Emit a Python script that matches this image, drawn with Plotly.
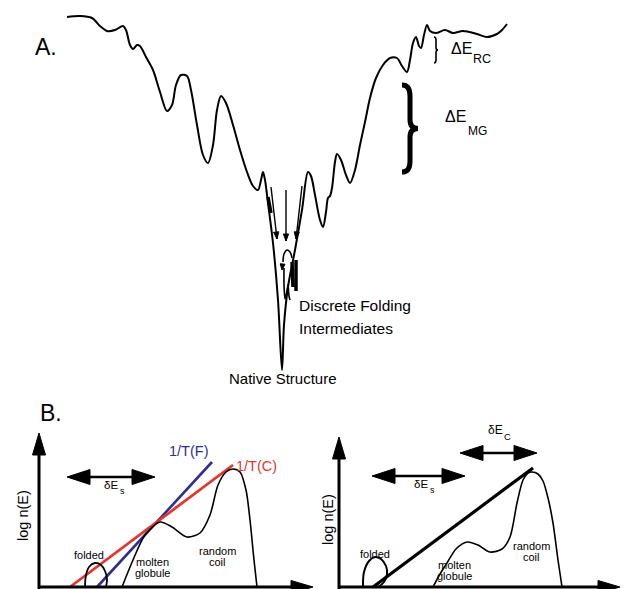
import plotly.graph_objects as go

# ---------------- data ----------------
# Panel A: energy landscape, conformation coordinate vs energy (screen units, energy grows downward)
LAND_Q = [67, 80, 92, 100, 107, 115, 123, 126, 130, 133, 137, 140, 146, 153, 160, 167, 172, 176, 181, 187,
          191, 197, 203, 208, 213, 217, 221, 226, 233, 240, 247, 253, 258, 261, 263, 265, 268, 273, 278, 282,
          284, 288, 295, 302, 308, 311, 315, 320, 323, 326, 328, 330, 332, 335, 337, 341, 346, 350, 355, 360,
          365, 370, 376, 383, 390, 397, 402, 407, 410, 413, 416, 419, 421, 424, 427, 430, 436, 445, 453, 463,
          477, 487, 497, 502, 507]
LAND_E = [17, 16, 18, 26, 31, 30, 26, 30, 45, 49, 45, 46, 57, 70, 92, 111, 105, 85, 75, 76,
          90, 125, 155, 163, 145, 110, 96, 103, 125, 150, 172, 186, 190, 180, 172, 180, 203, 243, 300, 370,
          325, 287, 250, 210, 172, 176, 195, 220, 227, 212, 198, 196, 188, 162, 154, 160, 175, 183, 170, 145,
          122, 98, 78, 65, 58, 58, 66, 72, 60, 43, 37, 46, 48, 35, 25, 31, 33, 30, 33, 31,
          34, 37, 34, 30, 24]

# funnel details: arrows (tail -> head), arc, inner wiggles
FUNNEL_ARROWS = [((271, 187), (277, 239)), ((286, 190), (286, 241)), ((302, 186), (296, 239))]
ARC_Q = [292, 290, 287, 284, 283]
ARC_E = [258, 252, 250, 254, 262]
INNER_Q = [284, 284, 285, 287, 288, 289, 290]
INNER_E = [268, 285, 299, 291, 285, 296, 300]
THICK_SEGS = [((268, 197), (271, 213)), ((292, 262), (293, 287)), ((296, 260), (296, 291))]

# Panel B left: density of states curves
BL_CURVE_E = [122, 133, 145, 160, 172, 187, 200, 210, 218, 226, 233, 240, 246, 250, 254, 257]
BL_CURVE_N = [587, 560, 535, 522, 527, 537, 533, 515, 485, 472, 469, 472, 490, 520, 560, 587]
BL_FOLD_E = [85, 86, 89, 95, 101, 105, 107, 106]
BL_FOLD_N = [587, 575, 567, 563, 565, 571, 579, 587]
LINE_TF = [(97, 587), (212, 462)]
LINE_TC = [(70, 587), (233, 465)]

# Panel B right
BR_CURVE_E = [433, 440, 447, 456, 467, 478, 490, 502, 510, 517, 523, 528, 532, 538, 543, 548, 553, 558, 562]
BR_CURVE_N = [587, 574, 563, 549, 542, 545, 552, 549, 537, 503, 480, 473, 472, 474, 481, 498, 523, 560, 587]
BR_FOLD_E = [363, 364, 369, 375, 381, 386, 387, 384, 378]
BR_FOLD_N = [587, 572, 561, 557, 559, 566, 574, 582, 587]
LINE_R = [(373, 587), (533, 468)]

# axes of panel B (origin, y tip, x tip)
AXES_B = [((39, 587), 433, 313), ((339, 587), 437, 620)]
# double arrows: (left end, right end, level)
DOUBLE_ARROWS = [(67, 155, 477), (372, 465, 476), (460, 537, 453)]

# braces: (q, top, bottom, depth, width)
BRACES = [(434, 37, 63, 4, 1.6), (402, 85, 172, 16, 5)]

FONT = "Liberation Sans, Arial, sans-serif"
BLUE = "#2f2f8f"
RED = "#e3372e"

fig = go.Figure()


def line(xs, ys, color="black", width=2, shape="spline", smoothing=1.0):
    fig.add_trace(go.Scatter(x=xs, y=ys, mode="lines",
                             line=dict(color=color, width=width, shape=shape, smoothing=smoothing),
                             hoverinfo="skip", showlegend=False))


def head(tip, dx, dy, length, half):
    # filled triangle arrowhead pointing along (dx, dy)
    px, py = -dy, dx
    bx, by = tip[0] - dx * length, tip[1] - dy * length
    xs = [tip[0], bx + px * half, bx - px * half, tip[0]]
    ys = [tip[1], by + py * half, by - py * half, tip[1]]
    fig.add_trace(go.Scatter(x=xs, y=ys, mode="lines", fill="toself", fillcolor="black",
                             line=dict(color="black", width=1), hoverinfo="skip", showlegend=False))


# Panel A landscape
line(LAND_Q, LAND_E, width=2, smoothing=0.9)
line(ARC_Q, ARC_E, width=1.6)
line(INNER_Q, INNER_E, width=1.6, smoothing=0.6)
for (a, b) in THICK_SEGS:
    line([a[0], b[0]], [a[1], b[1]], width=3.5, shape="linear")
for (tail, tip) in FUNNEL_ARROWS:
    line([tail[0], tip[0]], [tail[1], tip[1]], width=1.4, shape="linear")
    L = ((tip[0] - tail[0]) ** 2 + (tip[1] - tail[1]) ** 2) ** 0.5
    head(tip, (tip[0] - tail[0]) / L, (tip[1] - tail[1]) / L, 7, 2.6)
head((282, 270), -0.1, 1, 6, 2.4)

# braces
for (q, y0, y1, d, w) in BRACES:
    ym = (y0 + y1) / 2
    h = d * 0.5
    path = (f"M{q},{y0} Q{q + h},{y0} {q + h},{y0 + (ym - y0) * 0.25} "
            f"L{q + h},{ym - (ym - y0) * 0.2} Q{q + h},{ym} {q + d},{ym} "
            f"Q{q + h},{ym} {q + h},{ym + (y1 - ym) * 0.2} "
            f"L{q + h},{y1 - (y1 - ym) * 0.25} Q{q + h},{y1} {q},{y1}")
    fig.add_shape(type="path", path=path, xref="x", yref="y",
                  line=dict(color="black", width=w))

# Panel B lines
line([p[0] for p in LINE_TF], [p[1] for p in LINE_TF], color=BLUE, width=2.6, shape="linear")
line([p[0] for p in LINE_TC], [p[1] for p in LINE_TC], color=RED, width=2.8, shape="linear")
line(BL_CURVE_E, BL_CURVE_N, width=1.6, smoothing=0.8)
line(BL_FOLD_E, BL_FOLD_N, width=1.8, smoothing=1.0)
line(BR_CURVE_E, BR_CURVE_N, width=1.6, smoothing=0.8)
line(BR_FOLD_E, BR_FOLD_N, width=2, smoothing=1.0)
line([p[0] for p in LINE_R], [p[1] for p in LINE_R], width=3.2, shape="linear")

# axes of panel B
for (orig, ytip, xtip) in AXES_B:
    line([orig[0], orig[0]], [orig[1] + 3, ytip + 18], width=3, shape="linear")
    head((orig[0], ytip), 0, -1, 22, 6.5)
    line([orig[0], xtip - 18], [orig[1], orig[1]], width=3, shape="linear")
    head((xtip, orig[1]), 1, 0, 22, 6.5)

for (x0, x1, yv) in DOUBLE_ARROWS:
    line([x0 + 15, x1 - 15], [yv, yv], width=2.6, shape="linear")
    head((x0, yv), -1, 0, 23, 7.5)
    head((x1, yv), 1, 0, 23, 7.5)


def text(x, y, s, size, color="black", angle=0, xanchor="center"):
    fig.add_annotation(x=x, y=y, text=s, xref="x", yref="y", showarrow=False,
                       font=dict(family=FONT, size=size, color=color), textangle=angle,
                       xanchor=xanchor, yanchor="middle")


text(46, 47, "A.", 23)
text(51, 413, "B.", 23)
text(461, 48, "ΔE", 16)
text(471, 59, "RC", 12.5, xanchor="left")
text(455, 116, "ΔE", 16)
text(466, 131, "MG", 12, xanchor="left")
text(297, 305, "Discrete Folding", 15.5, xanchor="left")
text(297, 328, "Intermediates", 15.5, xanchor="left")
text(283, 378, "Native Structure", 15)

# left panel B
text(188, 451, "1/T(F)", 14.5, color=BLUE)
text(256, 466, "1/T(C)", 14.5, color=RED)
text(111, 485, "δE", 11.5)
text(118, 491, "s", 9, xanchor="left")
text(89, 555, "folded", 11)
text(152, 562, "molten", 11)
text(152, 573, "globule", 11)
text(217, 551, "random", 11)
text(217, 562, "coil", 11)
text(23, 516, "log n(E)", 14.5, angle=-90)

# right panel B
text(495, 430, "δE", 12)
text(502, 436, "C", 9.5, xanchor="left")
text(421, 484, "δE", 11.5)
text(428, 490, "s", 9, xanchor="left")
text(375, 554, "folded", 11)
text(454, 565, "molten", 11)
text(454, 576, "globule", 11)
text(531, 546, "random", 11)
text(531, 557, "coil", 11)
text(328, 520, "log n(E)", 14.5, angle=-90)

fig.update_layout(
    width=623, height=589, margin=dict(l=0, r=0, t=0, b=0),
    paper_bgcolor="white", plot_bgcolor="white",
    xaxis=dict(range=[0, 623], visible=False, fixedrange=True),
    yaxis=dict(range=[589, 0], visible=False, fixedrange=True),
    showlegend=False,
)
fig.write_html("out.html", config={"displayModeBar": False},
               post_script="document.body.style.margin='0px';document.body.style.overflow='hidden';")
